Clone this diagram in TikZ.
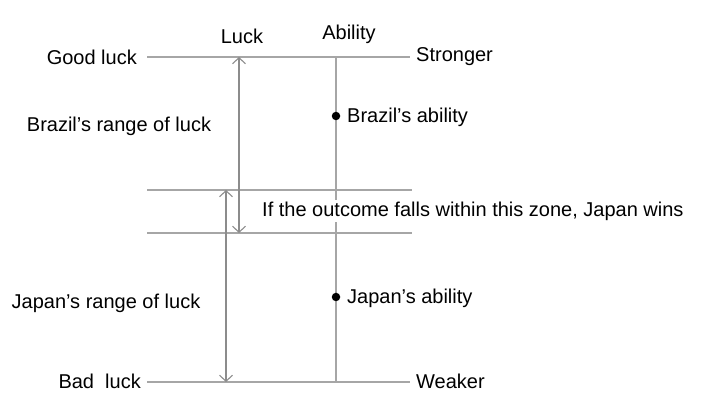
\documentclass[tikz,border=0pt]{standalone}
\usepackage{fontspec}
\setmainfont{Liberation Sans}
\usetikzlibrary{arrows.meta}
\definecolor{linegray}{HTML}{A6A6A6}
\definecolor{arrowgray}{HTML}{8C8C8C}
\begin{document}
\begin{tikzpicture}[x=1pt,y=-1pt,
  hline/.style={draw=linegray,line width=1.8pt},
  vline/.style={draw=linegray,line width=1.8pt},
  rangearrow/.style={draw=arrowgray,line width=1.1pt,{Straight Barb[length=6pt,width=13pt]}-{Straight Barb[length=6pt,width=13pt]}},
  lbl/.style={font=\fontsize{20}{24}\selectfont,inner sep=0pt},
  dotnode/.style={circle,fill=black,inner sep=0pt,minimum size=8.5pt}]
\useasboundingbox (0,0) rectangle (702,419);
% coordinates
\coordinate (tl) at (147,57);  \coordinate (tr) at (410,57);
\coordinate (z1l) at (147,190); \coordinate (z1r) at (412,190);
\coordinate (z2l) at (147,233); \coordinate (z2r) at (412,233);
\coordinate (bl) at (147,382); \coordinate (br) at (410,382);
\coordinate (at) at (336,57); \coordinate (ab) at (336,382);
\coordinate (bz1) at (239,57); \coordinate (bz2) at (239,233);
\coordinate (jp1) at (226,190); \coordinate (jp2) at (226,382);
% lines
\draw[hline] (tl) -- (tr);
\draw[hline] (z1l) -- (z1r);
\draw[hline] (z2l) -- (z2r);
\draw[hline] (bl) -- (br);
\draw[vline] (at) -- (ab);
\draw[rangearrow] (bz1) -- (bz2);
\draw[rangearrow] (jp1) -- (jp2);
% dots
\node[dotnode] (bd) at (336,116) {};
\node[dotnode] (jd) at (336,297) {};
% labels
\node[lbl] (luck) at (242,36) {Luck};
\node[lbl] (abil) at (349,34) {Ability};
\node[lbl,anchor=east] (good) at (137,57) {Good luck};
\node[lbl,anchor=west] (strong) at (416,57) {Stronger};
\node[lbl] (brr) at (119,126) {Brazil’s range of luck};
\node[lbl,anchor=west] (bab) at (347,117) {Brazil’s ability};
\node[lbl,anchor=west,fill=white,inner ysep=2pt] (zone) at (262,211) {If the outcome falls within this zone, Japan wins};
\node[lbl] (jpr) at (106,303) {Japan’s range of luck};
\node[lbl,anchor=west] (jab) at (347,298) {Japan’s ability};
\node[lbl,anchor=east] (bad) at (141,381) {Bad\ \ luck};
\node[lbl,anchor=west] (weak) at (416,381) {Weaker};
\end{tikzpicture}
\end{document}
